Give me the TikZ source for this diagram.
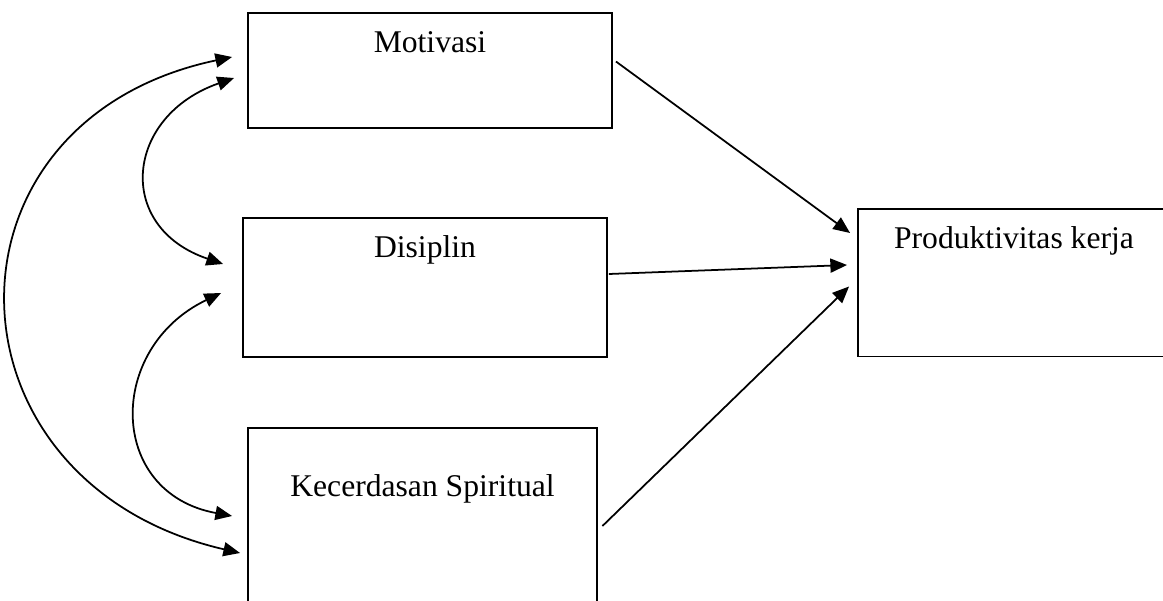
\documentclass[tikz,border=0pt]{standalone}
\usepackage{fontspec}
\setmainfont{Liberation Serif}
\usetikzlibrary{arrows.meta, calc, positioning}

\begin{document}
\begin{tikzpicture}[x=0.02cm, y=-0.02cm, font=\fontsize{18}{21}\selectfont,
    varbox/.style={draw, line width=1.1pt, inner sep=0pt},
    boxtext/.style={anchor=base, yshift=#1},
    onearrow/.style={line width=1pt, -{Triangle[length=9.5pt, width=8pt]}},
    twoarrow/.style={line width=1pt, {Triangle[length=9.5pt, width=8pt]}-{Triangle[length=9.5pt, width=8pt]}}]
    % Page frame
    \useasboundingbox (0,0) rectangle (1163,601);
    \clip (0,0) rectangle (1163,601);

    % Variables
    \node[varbox, minimum width=7.28cm, minimum height=2.30cm,
        label={[boxtext=-0.8cm]north:Motivasi}] (mot) at (430,70.5) {};
    \node[varbox, minimum width=7.28cm, minimum height=2.78cm,
        label={[boxtext=-0.8cm]north:Disiplin}] (dis) at (425,287.5) {};
    \node[varbox, minimum width=6.98cm, minimum height=4.24cm,
        label={[boxtext=-1.38cm]north:Kecerdasan Spiritual}] (kec) at (422.5,534) {};
    \node[varbox, minimum width=6.24cm, minimum height=2.95cm,
        label={[boxtext=-0.8cm]north:Produktivitas kerja}] (prod) at (1014,282.75) {};

    % Paths to the outcome
    \draw[onearrow] ($(mot.east)+(3,-9)$) -- ($(prod.west)+(-7,-49.75)$);
    \draw[onearrow] ($(dis.east)+(1,-13.5)$) -- ($(prod.west)+(-10,-17.75)$);
    \draw[onearrow] ($(kec.east)+(4.5,-8)$) -- ($(prod.west)+(-8,3.75)$);

    % Correlations
    \draw[twoarrow] ($(mot.west)+(-15,-13.5)$) .. controls +(-304,64) and +(-304,-70) .. ($(kec.west)+(-7,19)$);
    \draw[twoarrow] ($(mot.west)+(-13,7.5)$) .. controls +(-109,38) and +(-109,-37) .. ($(dis.west)+(-19,-23.5)$);
    \draw[twoarrow] ($(dis.west)+(-21,5.5)$) .. controls +(-115,55) and +(-125,-23) .. ($(kec.west)+(-15,-18)$);
\end{tikzpicture}
\end{document}
